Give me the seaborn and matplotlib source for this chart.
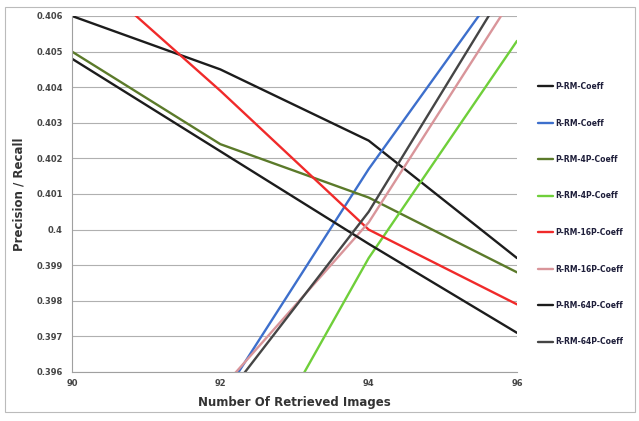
import pandas as pd
import matplotlib.pyplot as plt
import matplotlib.patches as mpatches
import seaborn as sns

# x values (number of retrieved images)
retrieved = [90, 92, 94, 96]

# precision / recall per method
p_rm = [0.4060, 0.4045, 0.4025, 0.3992]
r_rm = [0.3887, 0.3952, 0.4017, 0.4075]
p_rm_4p = [0.4050, 0.4024, 0.4009, 0.3988]
r_rm_4p = [0.3844, 0.3918, 0.3992, 0.4053]
p_rm_16p = [0.4076, 0.4039, 0.4000, 0.3979]
r_rm_16p = [0.3908, 0.3955, 0.4002, 0.4067]
p_rm_64p = [0.4048, 0.4022, 0.3996, 0.3971]
r_rm_64p = [0.3897, 0.3951, 0.4005, 0.4073]

series_names = ['P-RM-Coeff', 'R-RM-Coeff', 'P-RM-4P-Coeff', 'R-RM-4P-Coeff',
                'P-RM-16P-Coeff', 'R-RM-16P-Coeff', 'P-RM-64P-Coeff', 'R-RM-64P-Coeff']
series_values = [p_rm, r_rm, p_rm_4p, r_rm_4p, p_rm_16p, r_rm_16p, p_rm_64p, r_rm_64p]
series_colors = ['#1c1c1c', '#3d6fcc', '#5b7a2a', '#6fcf3a',
                 '#f02a2a', '#d9959a', '#1c1c1c', '#454545']

y_ticks = [0.396, 0.397, 0.398, 0.399, 0.4, 0.401, 0.402, 0.403, 0.404, 0.405, 0.406]
x_ticks = [90, 92, 94, 96]


def build_frame():
    rows = []
    for name, vals in zip(series_names, series_values):
        for x, v in zip(retrieved, vals):
            rows.append({'images': x, 'value': v, 'method': name})
    return pd.DataFrame(rows)


def main():
    df = build_frame()
    sns.set_style('white')
    plt.rcParams['font.family'] = ['DejaVu Sans']

    fig = plt.figure(figsize=(6.39, 4.21), dpi=100)
    ax = fig.add_axes([72 / 639, 1 - 372 / 421, (517 - 72) / 639, (372 - 16) / 421])

    palette = dict(zip(series_names, series_colors))
    sns.lineplot(data=df, x='images', y='value', hue='method', hue_order=series_names,
                 palette=palette, linewidth=1.7, ax=ax, legend=False)

    ax.set_xlim(90, 96)
    ax.set_ylim(0.396, 0.406)
    ax.set_xticks(x_ticks)
    ax.set_xticklabels([str(t) for t in x_ticks])
    ax.set_yticks(y_ticks)
    ax.set_yticklabels([f'{t:g}' for t in y_ticks])
    ax.tick_params(axis='both', labelsize=6, colors='#444444', length=3, width=0.6)
    ax.tick_params(axis='x', length=0, pad=5)
    for lab in ax.get_xticklabels() + ax.get_yticklabels():
        lab.set_fontweight('bold')
    ax.yaxis.grid(True, color='#b0b0b0', linewidth=0.8)
    ax.xaxis.grid(False)
    for side in ['top', 'right']:
        ax.spines[side].set_visible(False)
    for side in ['left', 'bottom']:
        ax.spines[side].set_color('#a0a0a0')
        ax.spines[side].set_linewidth(0.8)

    ax.set_xlabel('Number Of Retrieved Images', fontsize=8.5, fontweight='bold', color='#333333', labelpad=6)
    ax.set_ylabel('Precision / Recall', fontsize=8.5, fontweight='bold', color='#333333', labelpad=8)

    # legend on the right
    handles = [plt.Line2D([0], [0], color=c, lw=1.7) for c in series_colors]
    fig.legend(handles, series_names, loc='upper left', bbox_to_anchor=(538 / 639, 1 - 82 / 421),
               frameon=False, labelspacing=3.6, handlelength=2.0, handletextpad=0.2,
               borderpad=0, borderaxespad=0, labelcolor='#1e1e3a', prop={'weight': 'bold', 'size': 5.5})

    # outer chart border
    fig.patches.append(mpatches.Rectangle((5 / 639, 1 - 412 / 421), 630 / 639, 405 / 421,
                                          transform=fig.transFigure, fill=False,
                                          edgecolor='#bbbbbb', linewidth=0.8))

    fig.savefig('out.png', dpi=100)


if __name__ == '__main__':
    main()
